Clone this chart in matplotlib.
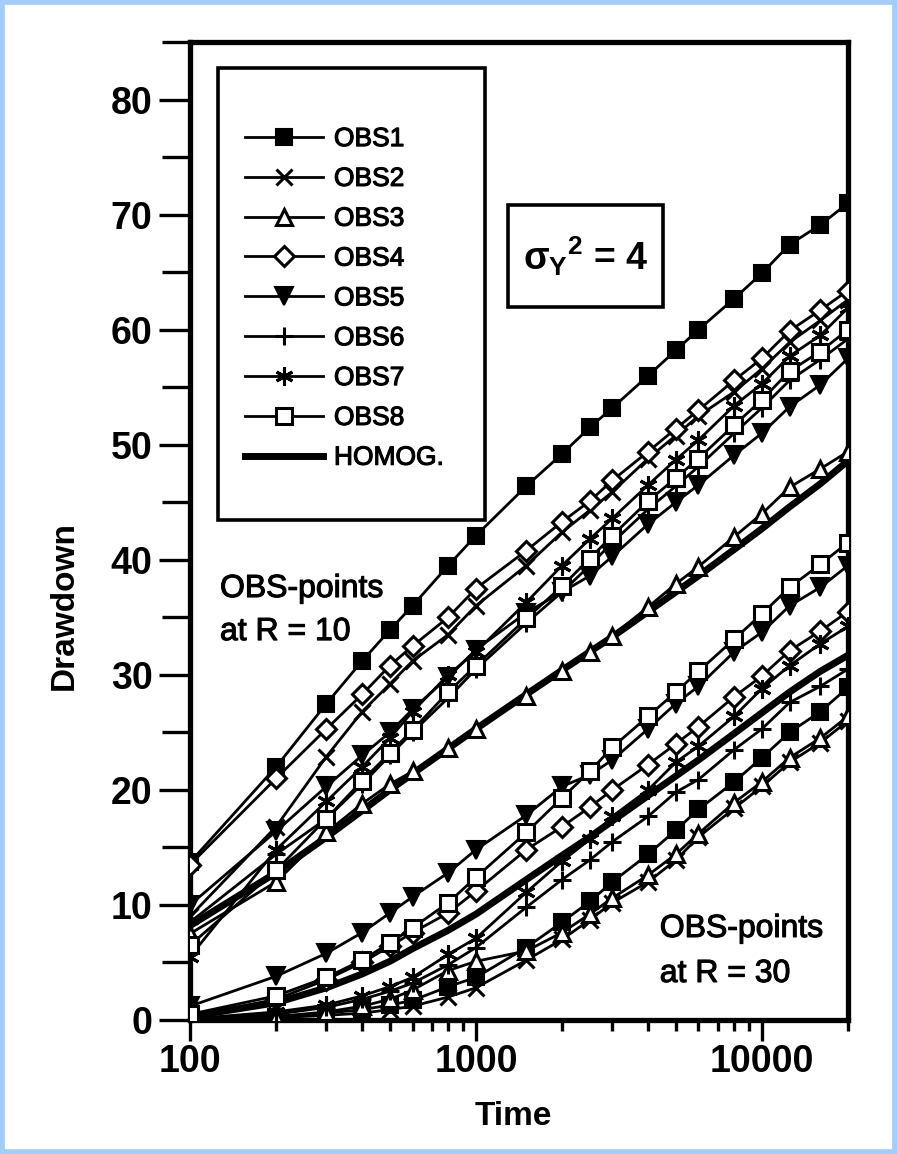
import matplotlib
matplotlib.use("Agg")
import matplotlib.pyplot as plt
import matplotlib.patheffects as pe
from matplotlib.patches import Rectangle
from matplotlib.ticker import FixedLocator, NullFormatter, FixedFormatter

plt.rcParams['font.family'] = ['Liberation Sans', 'DejaVu Sans']
plt.rcParams['mathtext.fontset'] = 'custom'
plt.rcParams['mathtext.rm'] = 'Liberation Sans:bold'
plt.rcParams['mathtext.it'] = 'Liberation Sans:bold'
plt.rcParams['mathtext.bf'] = 'Liberation Sans:bold'

# ---------------- data ----------------
time = [100, 200, 300, 400, 500, 600, 800, 1000, 1500, 2000, 2500, 3000,
        4000, 5000, 6000, 8000, 10000, 12500, 16000, 20000]

series_names = ["OBS1", "OBS2", "OBS3", "OBS4", "OBS5", "OBS6", "OBS7", "OBS8"]

# observation points at R = 10
obs1_r10 = [13.7, 22.0, 27.5, 31.2, 33.9, 36.0, 39.5, 42.1, 46.4, 49.2, 51.5, 53.2, 56.0, 58.2, 60.0, 62.7, 64.9, 67.4, 69.1, 71.0]
obs2_r10 = [9.0, 16.8, 22.9, 26.8, 29.2, 31.2, 33.5, 36.0, 39.5, 42.4, 44.3, 45.9, 48.8, 50.8, 52.5, 54.6, 56.6, 58.9, 60.8, 62.6]
obs3_r10 = [7.5, 12.0, 16.3, 18.8, 20.5, 21.6, 23.6, 25.3, 28.2, 30.3, 32.0, 33.4, 35.9, 37.9, 39.4, 42.0, 44.0, 46.3, 47.9, 49.4]
obs4_r10 = [13.5, 21.0, 25.3, 28.3, 30.8, 32.5, 35.0, 37.5, 40.8, 43.3, 45.1, 46.9, 49.4, 51.4, 53.0, 55.6, 57.5, 59.9, 61.7, 63.4]
obs5_r10 = [10.0, 16.4, 20.3, 23.0, 25.0, 27.0, 29.8, 32.2, 35.4, 37.2, 38.6, 40.3, 43.1, 45.0, 46.5, 49.1, 51.0, 53.3, 55.2, 57.5]
obs6_r10 = [8.5, 14.4, 17.5, 20.5, 23.0, 25.0, 28.0, 30.5, 34.5, 37.2, 39.5, 41.5, 44.4, 46.4, 48.1, 51.0, 53.2, 55.6, 57.4, 59.2]
obs7_r10 = [5.5, 14.8, 19.0, 22.0, 24.5, 26.8, 30.0, 32.0, 36.3, 39.5, 41.8, 43.6, 46.5, 48.7, 50.4, 53.4, 55.3, 57.7, 59.5, 61.9]
obs8_r10 = [6.5, 13.0, 17.5, 20.8, 23.2, 25.2, 28.5, 30.8, 34.9, 37.7, 40.1, 42.1, 45.1, 47.1, 48.8, 51.7, 53.9, 56.4, 58.1, 60.0]
homog_r10 = [8.2, 12.8, 15.9, 18.2, 20.0, 21.4, 23.6, 25.3, 28.3, 30.4, 32.0, 33.3, 35.5, 37.2, 38.6, 40.9, 42.7, 44.6, 46.6, 48.6]

# observation points at R = 30
obs1_r30 = [0.0, 0.3, 0.6, 0.9, 1.3, 1.7, 2.9, 3.7, 6.3, 8.5, 10.3, 12.0, 14.4, 16.5, 18.3, 20.7, 22.8, 25.0, 26.8, 28.9]
obs2_r30 = [0.0, 0.2, 0.4, 0.6, 0.9, 1.2, 2.0, 2.8, 5.2, 7.0, 8.7, 10.2, 12.0, 13.9, 15.9, 18.4, 20.3, 22.4, 24.1, 26.0]
obs3_r30 = [0.0, 0.3, 0.7, 1.2, 1.8, 2.6, 4.3, 5.1, 6.0, 7.6, 9.2, 10.6, 12.6, 14.4, 16.2, 18.9, 20.7, 22.8, 24.5, 26.4]
obs4_r30 = [0.3, 1.8, 3.5, 5.0, 6.4, 7.6, 9.3, 11.2, 14.8, 16.8, 18.5, 20.0, 22.2, 24.0, 25.5, 28.1, 29.9, 32.1, 33.8, 35.5]
obs5_r30 = [1.2, 3.8, 5.8, 7.6, 9.3, 10.7, 12.8, 14.8, 17.8, 20.3, 21.3, 22.6, 25.3, 27.5, 29.0, 32.0, 33.7, 36.0, 37.6, 39.5]
obs6_r30 = [0.1, 0.5, 1.1, 1.8, 2.5, 3.2, 4.8, 6.3, 9.8, 12.2, 13.9, 15.5, 17.7, 19.8, 20.9, 23.5, 25.3, 27.6, 29.0, 30.5]
obs7_r30 = [0.1, 0.7, 1.3, 2.1, 2.9, 3.7, 5.7, 7.1, 11.1, 13.8, 15.7, 17.7, 20.0, 22.4, 23.8, 26.4, 28.8, 30.8, 32.7, 34.2]
obs8_r30 = [0.5, 2.1, 3.7, 5.2, 6.7, 8.0, 10.2, 12.4, 16.3, 19.3, 21.6, 23.7, 26.4, 28.5, 30.3, 33.1, 35.3, 37.6, 39.6, 41.5]
homog_r30 = [0.3, 1.5, 2.8, 4.0, 5.1, 6.2, 7.8, 9.2, 12.2, 14.3, 15.9, 17.3, 19.5, 21.2, 22.6, 24.9, 26.7, 28.5, 30.3, 31.7]

r10_values = [obs1_r10, obs2_r10, obs3_r10, obs4_r10, obs5_r10, obs6_r10, obs7_r10, obs8_r10]
r30_values = [obs1_r30, obs2_r30, obs3_r30, obs4_r30, obs5_r30, obs6_r30, obs7_r30, obs8_r30]

x_tick_values = [100, 1000, 10000]
x_tick_labels = ["100", "1000", "10000"]
y_tick_values = [0, 10, 20, 30, 40, 50, 60, 70, 80]

# ---------------- styles ----------------
styles = [
    dict(marker='s', ms=11, mfc='black', mec='black', mew=1.5),
    dict(marker='x', ms=11, mfc='none', mec='black', mew=2.2),
    dict(marker='^', ms=12, mfc='white', mec='black', mew=2.2),
    dict(marker='D', ms=10, mfc='white', mec='black', mew=2.2),
    dict(marker='v', ms=13, mfc='black', mec='black', mew=1.5),
    dict(marker='+', ms=13, mfc='none', mec='black', mew=2.2),
    dict(marker=(6, 2, 0), ms=13, mfc='none', mec='black', mew=2.2),
    dict(marker='s', ms=11, mfc='white', mec='black', mew=2.2),
]

heavy = [pe.withStroke(linewidth=0.8, foreground='black')]

fig = plt.figure(figsize=(8.97, 11.54), dpi=100)
fig.patch.set_facecolor('white')
ax = fig.add_axes([190 / 897, 1 - 1020 / 1154, 658 / 897, 978 / 1154])

handles = []
for name, vals, st in zip(series_names, r10_values, styles):
    h, = ax.plot(time, vals, color='black', lw=2.0, label=name, zorder=3, **st)
    handles.append(h)
for vals, st in zip(r30_values, styles):
    ax.plot(time, vals, color='black', lw=2.0, zorder=3, **st)

hh, = ax.plot(time, homog_r10, color='black', lw=5, label='HOMOG.', zorder=2)
ax.plot(time, homog_r30, color='black', lw=5, zorder=2)
handles.append(hh)

ax.set_xscale('log')
ax.set_xlim(100, 20000)
ax.set_ylim(0, 85)

ax.xaxis.set_major_locator(FixedLocator(x_tick_values))
ax.xaxis.set_major_formatter(FixedFormatter(x_tick_labels))
minor_x = [200, 300, 400, 500, 600, 700, 800, 900,
           2000, 3000, 4000, 5000, 6000, 7000, 8000, 9000, 20000]
ax.xaxis.set_minor_locator(FixedLocator(minor_x))
ax.xaxis.set_minor_formatter(NullFormatter())
ax.yaxis.set_major_locator(FixedLocator(y_tick_values))
ax.yaxis.set_minor_locator(FixedLocator([5, 15, 25, 35, 45, 55, 65, 75, 85]))

for sp in ax.spines.values():
    sp.set_linewidth(3.8)

ax.tick_params(axis='x', which='major', direction='out', length=15, width=2.4,
               labelsize=27, pad=2)
ax.tick_params(axis='x', which='minor', direction='out', length=8, width=2.4)
ax.tick_params(axis='y', which='major', direction='out', length=22, width=2.4,
               labelsize=27, pad=5)
ax.tick_params(axis='y', which='minor', direction='out', length=20, width=2.4)
for lab in ax.get_xticklabels() + ax.get_yticklabels():
    lab.set_fontweight('bold')

ax.set_ylabel('Drawdown', fontsize=24, fontweight='bold')
ax.yaxis.set_label_coords(-0.168, 0.424)
ax.set_xlabel('Time', fontsize=24, fontweight='bold')
ax.xaxis.set_label_coords(0.491, -0.083)

# legend frame
ax.add_patch(Rectangle((0.0426, 0.511), 0.4057, 0.462, transform=ax.transAxes,
                       fill=True, facecolor='white', edgecolor='black', lw=2.6, zorder=5))
leg = ax.legend(handles=handles, loc='upper left', bbox_to_anchor=(0.0836, 0.913),
                frameon=False, fontsize=19, numpoints=1, handlelength=2.95,
                handletextpad=0.42, labelspacing=0.6, borderpad=0,
                borderaxespad=0)
leg.set_zorder(6)
for txt in leg.get_texts():
    txt.set_path_effects(heavy)

# sigma box
ax.add_patch(Rectangle((0.483, 0.729), 0.236, 0.104, transform=ax.transAxes,
                       fill=True, facecolor='white', edgecolor='black', lw=2.6, zorder=5))
ax.text(0.601, 0.781, r'$\sigma_{Y}{}^{2}$ = 4', transform=ax.transAxes,
        ha='center', va='center', fontsize=27, fontweight='bold', zorder=6)

# group annotations
for x0, y0, s in [(0.0456, 0.4325, 'OBS-points'), (0.0456, 0.3885, 'at R = 10'),
                  (0.714, 0.0849, 'OBS-points'), (0.714, 0.0389, 'at R = 30')]:
    ax.text(x0, y0, s, transform=ax.transAxes, fontsize=23, va='baseline',
            ha='left', zorder=6, path_effects=heavy)

# light blue border of the picture
fig.patches.append(Rectangle((0, 0), 1, 1, transform=fig.transFigure, fill=False,
                             edgecolor='#a3cdfb', lw=7, zorder=10))

fig.savefig('out.png', dpi=100, facecolor='white')
